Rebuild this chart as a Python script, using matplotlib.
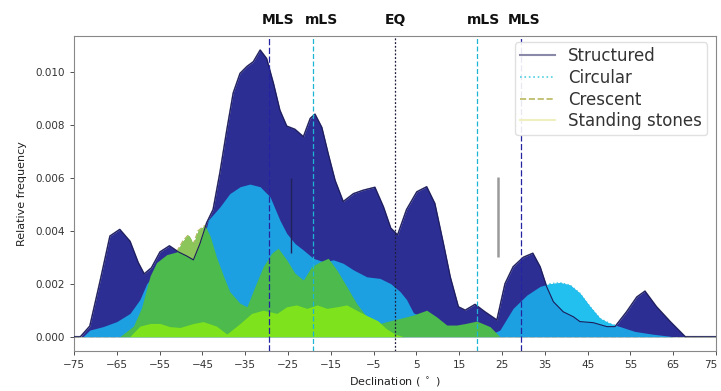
import numpy as np
import matplotlib
matplotlib.use('Agg')
import matplotlib.pyplot as plt
from matplotlib.lines import Line2D
import matplotlib.transforms as mtransforms

# Density curves (declination in degrees, relative frequency)
structured_x = [-75, -73.5, -71.3, -68.9, -66.6, -64.3, -61.9, -60, -58.6, -56.9, -54.9, -52.7, -50.6, -48.7,
                -47.1, -45.6, -44, -42.5, -40.9, -39.3, -37.8, -36.2, -34.6, -33.1, -31.5, -30, -28.4, -26.9,
                -25.3, -23.4, -21.4, -19.8, -18.7, -17.1, -15.6, -14, -12.1, -9.7, -7.4, -4.7, -2.7, -1, 0.6,
                2.7, 5.1, 7.4, 9.3, 11.3, 12.9, 14.8, 16.4, 18.7, 21, 23.8, 25.7, 27.6, 30, 32.2, 33.9, 35.4,
                37, 39.3, 41.7, 43.2, 46.3, 49.5, 51.4, 54.1, 56.5, 58.4, 61.1, 64.3, 67.8, 75]
structured_y = [0, 0, 0.0004, 0.0021, 0.0038, 0.00405, 0.0036, 0.0028, 0.00237, 0.0026, 0.0032, 0.00343, 0.0032,
                0.00305, 0.0029, 0.0035, 0.0043, 0.0048, 0.0062, 0.0078, 0.0092, 0.00994, 0.0102, 0.01038,
                0.01082, 0.0105, 0.00956, 0.00855, 0.00795, 0.00783, 0.00755, 0.00824, 0.0084, 0.0079, 0.0069,
                0.0059, 0.0051, 0.0054, 0.00553, 0.00564, 0.0049, 0.0041, 0.00384, 0.0048, 0.00547, 0.00566,
                0.00503, 0.00352, 0.00226, 0.00113, 0.001, 0.00122, 0.00094, 0.00063, 0.002, 0.00264, 0.003,
                0.00315, 0.00264, 0.0019, 0.00132, 0.00094, 0.00075, 0.00057, 0.00053, 0.00038, 0.00038,
                0.00094, 0.0015, 0.00172, 0.00113, 0.00057, 0, 0]

circular_x = [-75, -72.9, -71.3, -68.2, -65, -61.9, -59.6, -58, -56, -53, -50, -47, -45, -43.6, -40.9, -38.6,
              -36.2, -33.9, -31.5, -29.2, -26.9, -25.3, -23.4, -21.4, -19.1, -16.7, -14.4, -12.1, -9.7, -6.6,
              -3.5, -1, 1.2, 2.7, 4.3, 7, 10, 13, 16, 20, 22.5, 24.5, 27.6, 30.8, 33.9, 36.2, 38.6, 40.9,
              43.2, 45.6, 47.9, 50.2, 52.6, 56, 60, 65, 75]
circular_y = [0, 0, 0.00025, 0.00038, 0.00057, 0.00088, 0.0014, 0.002, 0.0024, 0.0027, 0.0028, 0.0028, 0.0035,
              0.0044, 0.0049, 0.0054, 0.00566, 0.00576, 0.00566, 0.00528, 0.0044, 0.0039, 0.00352, 0.00327,
              0.00296, 0.00283, 0.0029, 0.00277, 0.00252, 0.00226, 0.0022, 0.002, 0.0017, 0.0014, 0.0009,
              0.0007, 0.0005, 0.0003, 0.0002, 0.0001, 0.0001, 0.00025, 0.00107, 0.00157, 0.0019, 0.002,
              0.00204, 0.00195, 0.00164, 0.00113, 0.00069, 0.0005, 0.00038, 0.0002, 0.0001, 0, 0]

crescent_x = [-75, -64.3, -61.1, -59.2, -57.2, -55.7, -53.3, -51, -49.6, -48.3, -47.1, -46, -44.4, -43.2, -41.7,
              -40.1, -38.6, -36.2, -34.6, -32.7, -30.8, -28.8, -27.3, -25.3, -23.4, -21.4, -19.5, -17.5, -15.6,
              -13.6, -11.3, -9, -6.6, -3.5, -0.4, 2.7, 4.3, 7.4, 9.7, 12.1, 14.4, 16.5, 19.1, 22.2, 24.5, 75]
crescent_y = [0, 0, 0.0004, 0.0011, 0.0023, 0.0028, 0.0031, 0.0032, 0.0036, 0.00384, 0.0035, 0.004, 0.0042,
              0.0038, 0.003, 0.0023, 0.0017, 0.00126, 0.00113, 0.0019, 0.00264, 0.00315, 0.00334, 0.0029,
              0.0024, 0.00214, 0.00264, 0.00283, 0.00296, 0.00252, 0.0019, 0.00126, 0.00075, 0.0005, 0.00063,
              0.00075, 0.00082, 0.001, 0.00075, 0.00044, 0.00044, 0.0005, 0.00059, 0.00038, 0, 0]

stones_x = [-75, -62, -59.6, -57.2, -54.9, -52.6, -50.2, -47.1, -44.8, -41.7, -39.3, -36.2, -33.5, -30.8, -27.6,
            -25.3, -23, -20.6, -18.2, -15.9, -13.6, -11.3, -9, -6.6, -4, -2, 0, 2, 75]
stones_y = [0, 0, 0.0004, 0.0005, 0.0005, 0.00038, 0.00035, 0.0005, 0.00057, 0.0004, 0.0001, 0.0005, 0.00088,
            0.001, 0.00088, 0.00113, 0.0012, 0.00107, 0.0012, 0.00107, 0.00113, 0.0012, 0.001, 0.0008, 0.0006,
            0.0003, 0.0001, 0, 0]

# lunar standstill / equator markers
marker_labels = ['MLS', 'mLS', 'EQ', 'mLS', 'MLS']
marker_decl = [-29.4, -19.1, 0, 19.1, 29.4]
marker_text_x = [-27.3, -17.1, 0, 20.6, 30.1]

fig = plt.figure(figsize=(7.21, 3.91), dpi=100)
ax = fig.add_axes([0.1026, 0.1023, 0.8905, 0.8056])

# faint outline lines (these are what the legend shows)
ax.plot(structured_x, structured_y, color='#8a8aa8', lw=1.2, zorder=1)
ax.plot(circular_x, circular_y, color='#4fd0e0', lw=1.0, ls=':', zorder=1)
ax.plot(crescent_x, crescent_y, color='#b8b860', lw=1.0, ls='--', zorder=1)
ax.plot(stones_x, stones_y, color='#f0efc0', lw=1.0, zorder=1)

# filled densities
ax.fill_between(structured_x, structured_y, color='#2d2e94', lw=0, zorder=2)

grid = np.array(sorted(set(structured_x) | set(circular_x) | set(crescent_x)))
s_on = np.interp(grid, structured_x, structured_y)
c_on = np.interp(grid, circular_x, circular_y)
cr_on = np.interp(grid, crescent_x, crescent_y)

ax.fill_between(circular_x, circular_y, color='#1ca0e2', lw=0, zorder=3)
ax.fill_between(grid, s_on, c_on, where=c_on > s_on, interpolate=True, color='#22c0ef', lw=0, zorder=3)

ax.fill_between(crescent_x, crescent_y, color='#4cba4c', lw=0, zorder=4)
ax.fill_between(grid, np.maximum(s_on, c_on), cr_on, where=cr_on > np.maximum(s_on, c_on),
                interpolate=True, color='#8cc65a', lw=0, zorder=4)

ax.fill_between(stones_x, stones_y, color='#7ee21c', lw=0, zorder=5)

# structured outline drawn over everything
ax.plot(structured_x, structured_y, color='#1c1c5c', lw=0.8, zorder=6)

# vertical markers
styles = {'MLS': ('#2424a0', (0, (5, 2))), 'mLS': ('#1eb4d4', (0, (4, 2))), 'EQ': ('#1e1e3c', (0, (1.5, 1.5)))}
for lab, d in zip(marker_labels, marker_decl):
    col, ls = styles[lab]
    ax.axvline(d, color=col, ls=ls, lw=0.9, zorder=7)
trans = mtransforms.blended_transform_factory(ax.transData, ax.transAxes)
for lab, tx in zip(marker_labels, marker_text_x):
    ax.text(tx, 1.05, lab, transform=trans, ha='center', va='center',
            fontsize=10, fontweight='bold', color='#111111')

# short bars
ax.vlines(24.1, 0.00302, 0.00603, color='#9a9a9a', lw=1.8, zorder=7)
ax.vlines(-24.3, 0.00316, 0.006, color='#22225a', lw=1.0, zorder=7)

ax.set_xlim(-75, 75)
ax.set_ylim(-0.00054, 0.01135)
ax.set_xticks(np.arange(-75, 76, 10))
ax.set_yticks(np.arange(0, 0.0101, 0.002))
ax.yaxis.set_major_formatter(matplotlib.ticker.FormatStrFormatter('%.3f'))
ax.tick_params(labelsize=7.5, colors='#333333', length=3, width=0.6)
for sp in ax.spines.values():
    sp.set_color('#888888')
    sp.set_linewidth(0.8)
ax.set_xlabel('Declination ( $^\\circ$ )', fontsize=8, color='#222222', labelpad=4)
ax.set_ylabel('Relative frequency', fontsize=8, color='#222222', labelpad=6)

# nudge the last x tick label so it stays inside the figure edge
last = ax.get_xticklabels()[-1]
last.set_transform(last.get_transform() + mtransforms.ScaledTranslation(-4 / 72, 0, fig.dpi_scale_trans))

leg_handles = [Line2D([], [], color='#8a8aa8', lw=1.5),
               Line2D([], [], color='#4fd0e0', lw=1.2, ls=':'),
               Line2D([], [], color='#b8b860', lw=1.2, ls='--'),
               Line2D([], [], color='#f0efc0', lw=1.5)]
leg = ax.legend(leg_handles, ['Structured', 'Circular', 'Crescent', 'Standing stones'],
                loc='upper right', bbox_to_anchor=(0.986, 0.98), borderaxespad=0,
                fontsize=12, handlelength=2.1, handletextpad=0.8, labelspacing=0.22,
                borderpad=0.3, framealpha=0.9, edgecolor='#dddddd', fancybox=True)
for t in leg.get_texts():
    t.set_color('#333333')
leg.set_zorder(10)

plt.savefig('out.png', dpi=100)
